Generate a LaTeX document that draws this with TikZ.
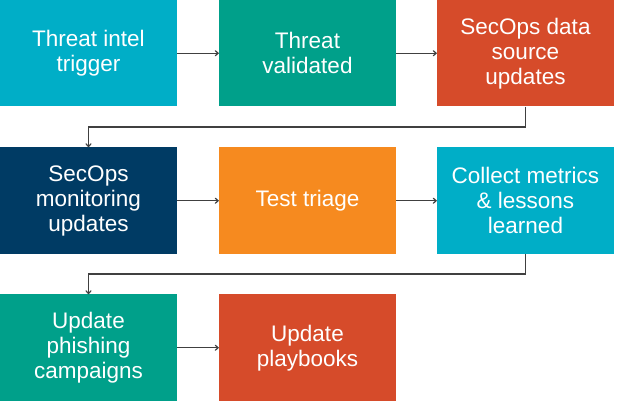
\documentclass[tikz,border=0pt]{standalone}
\usepackage{fontspec}
\setmainfont{Liberation Sans}
\usetikzlibrary{arrows.meta}
\definecolor{cyanbox}{HTML}{00AEC7}
\definecolor{tealbox}{HTML}{00A08A}
\definecolor{redbox}{HTML}{D64B2A}
\definecolor{navybox}{HTML}{003B64}
\definecolor{orangebox}{HTML}{F68A1F}
\definecolor{linegray}{HTML}{404040}
\tikzset{
  stepbox/.style={draw=none, minimum width=177pt, minimum height=106.5pt,
    inner sep=0pt, text=white, align=center,
    font=\fontsize{22.5}{25}\selectfont},
  flow/.style={draw=linegray, line width=1.2pt, -{To[length=4pt,width=6pt]}}
}
\begin{document}
\begin{tikzpicture}[x=1pt,y=1pt]
\useasboundingbox (0,0) rectangle (622,402);
% row 1
\node[stepbox, fill=cyanbox]   (b1) at (88.5,348.75) {Threat intel\\trigger};
\node[stepbox, fill=tealbox]   (b2) at (307.5,348.75) {Threat\\validated};
\node[stepbox, fill=redbox]    (b3) at (525.5,348.75) {SecOps data\\source\\updates};
% row 2
\node[stepbox, fill=navybox]   (b4) at (88.5,201.25) {SecOps\\monitoring\\updates};
\node[stepbox, fill=orangebox] (b5) at (307.5,201.25) {Test triage};
\node[stepbox, fill=cyanbox]   (b6) at (525.5,201.25) {Collect metrics\\\& lessons\\learned};
% row 3
\node[stepbox, fill=tealbox]   (b7) at (88.5,54.25) {Update\\phishing\\campaigns};
\node[stepbox, fill=redbox]    (b8) at (307.5,54.25) {Update\\playbooks};
% elbow bends between rows
\coordinate (k1) at (525.5,275);
\coordinate (k2) at (525.5,128);
% connectors
\draw[flow] (b1) -- (b2);
\draw[flow] (b2) -- (b3);
\draw[flow] (b3.south) -- (k1) -| (b4.north);
\draw[flow] (b4) -- (b5);
\draw[flow] (b5) -- (b6);
\draw[flow] (b6.south) -- (k2) -| (b7.north);
\draw[flow] (b7) -- (b8);
\end{tikzpicture}
\end{document}
